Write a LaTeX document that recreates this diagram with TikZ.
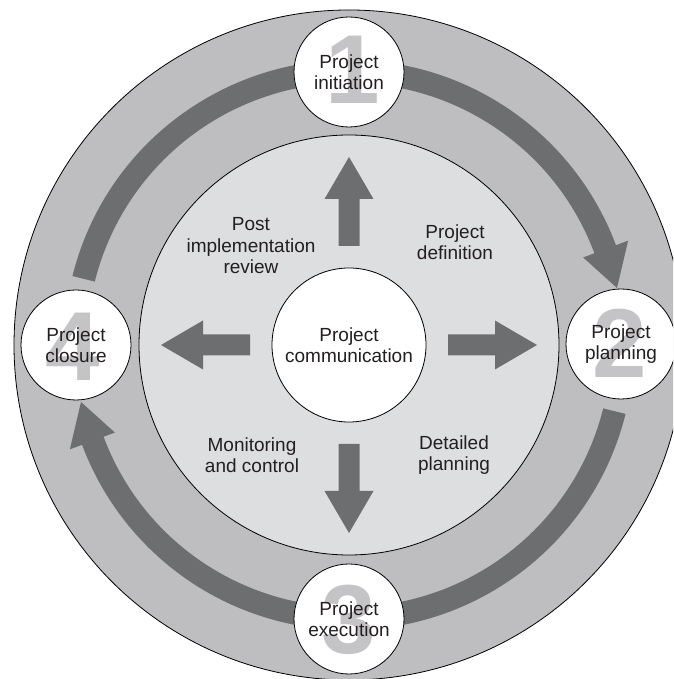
\documentclass[tikz,border=0pt]{standalone}
\usepackage{fontspec}
\setmainfont{Liberation Sans}
\definecolor{ringgray}{RGB}{190,190,192}
\definecolor{innergray}{RGB}{221,222,224}
\definecolor{bandgray}{RGB}{109,110,112}
\definecolor{digitgray}{RGB}{196,196,198}
\definecolor{txt}{RGB}{35,31,32}
\begin{document}
\begin{tikzpicture}[x=1pt,y=1pt,
  outline/.style={draw=black,line width=0.8pt},
  stage/.style={circle,outline,fill=white,minimum size=110pt,inner sep=0pt},
  digit/.style={text=digitgray,font=\bfseries\fontsize{98}{98}\selectfont,inner sep=0pt},
  lbl/.style={text=txt,align=center,font=\fontsize{19}{21.5}\selectfont,inner sep=0pt},
  band/.style={fill=bandgray},
  blockarrow/.pic={\fill[bandgray] (0,-10.5) -- (47,-10.5) -- (47,-24.5) -- (89,0) -- (47,24.5) -- (47,10.5) -- (0,10.5) -- cycle;}
]
\useasboundingbox (0,0) rectangle (673,679);
\clip (0,0) rectangle (673,679);
\coordinate (C) at (349,334);
% outer ring
\draw[outline,fill=ringgray] (C) circle[radius=335];
% ring arrows
\begin{scope}[shift={(C)}]
  \fill[band] (166:285) arc[start angle=166,end angle=20.5,radius=285]
     -- (20.5:298) -- (12:274) -- (20.5:250) -- (20.5:262)
     arc[start angle=20.5,end angle=166,radius=262] -- cycle;
  \fill[band] (-14:285) arc[start angle=-14,end angle=-159.5,radius=285]
     -- (-159.5:298) -- (-168:274) -- (-159.5:250) -- (-159.5:262)
     arc[start angle=-159.5,end angle=-14,radius=262] -- cycle;
\end{scope}
% inner disc
\draw[outline,fill=innergray] (C) circle[radius=210];
% stage circles
\node[stage] (s1) at (349,607) {};
\node[stage] (s2) at (621,335) {};
\node[stage] (s3) at (349,60) {};
\node[stage] (s4) at (76,334) {};
\node[digit] (d1) at (353,609) {1};
\node[digit] (d2) at (620,336) {2};
\node[digit] (d3) at (349,59) {3};
\node[digit] (d4) at (73,332) {4};
\node[lbl] (l1) at (s1) {Project\\initiation};
\node[lbl] (l2) at (s2) {Project\\planning};
\node[lbl] (l3) at (s3) {Project\\execution};
\node[lbl] (l4) at (s4) {Project\\closure};
% centre
\node[circle,outline,fill=white,minimum size=154pt,inner sep=0pt] (hub) at (C) {};
\node[lbl] (hubl) at (hub) {Project\\communication};
% block arrows
\pic[rotate=90] at (349,433) {blockarrow};
\pic[rotate=-90] at (349,235) {blockarrow};
\pic[rotate=180] at (250,334) {blockarrow};
\pic at (448,334) {blockarrow};
% phase labels
\node[lbl] (pir) at (251,433) {Post\\implementation\\review};
\node[lbl] (pd) at (455,437) {Project\\definition};
\node[lbl] (mc) at (252,224) {Monitoring\\and control};
\node[lbl] (dp) at (454,224) {Detailed\\planning};
\end{tikzpicture}
\end{document}
